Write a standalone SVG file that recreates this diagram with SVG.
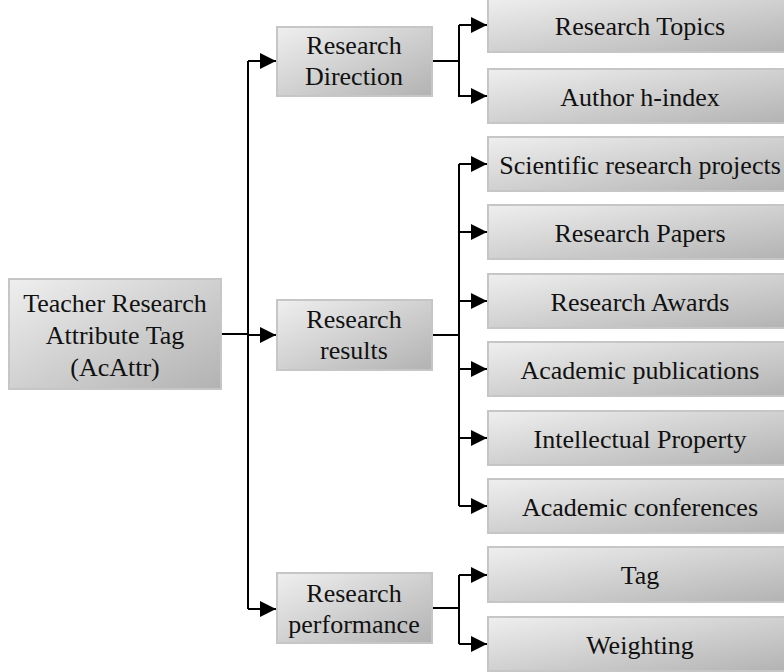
<svg xmlns="http://www.w3.org/2000/svg" width="784" height="672" viewBox="0 0 784 672">
  <style>
    .box { fill: url(#shade); stroke: #c6c6c6; stroke-width: 2; }
    .lbl { font-family: "Liberation Serif", "Times New Roman", serif; font-size: 26px; fill: #111; text-anchor: middle; }
    .wire { fill: none; stroke: #000; stroke-width: 2; }
  </style>
  <defs>
    <linearGradient id="shade" x1="0" y1="0" x2="1" y2="1">
      <stop offset="0" stop-color="#efefef"/>
      <stop offset="1" stop-color="#b2b2b2"/>
    </linearGradient>
    <marker id="arrow" viewBox="0 0 16 16" refX="16" refY="8" markerWidth="16" markerHeight="16" markerUnits="userSpaceOnUse" orient="auto">
      <path d="M0,0 L16,8 L0,16 Z" fill="#000"/>
    </marker>
  </defs>

  <rect width="784" height="672" fill="#fff"/>

  <!-- connectors -->
  <g id="connectors" class="wire">
    <!-- root to second level -->
    <path d="M221,334 H248"/>
    <path d="M248,61 V609"/>
    <path d="M248,61 H276" marker-end="url(#arrow)"/>
    <path d="M248,335 H276" marker-end="url(#arrow)"/>
    <path d="M248,609 H276" marker-end="url(#arrow)"/>
    <!-- Research Direction -->
    <path d="M432,61 H459 M459,25 V97"/>
    <path d="M459,25 H487" marker-end="url(#arrow)"/>
    <path d="M459,96 H487" marker-end="url(#arrow)"/>
    <!-- Research results -->
    <path d="M432,335 H459 M459,164 V506"/>
    <path d="M459,164 H487" marker-end="url(#arrow)"/>
    <path d="M459,232 H487" marker-end="url(#arrow)"/>
    <path d="M459,301 H487" marker-end="url(#arrow)"/>
    <path d="M459,369 H487" marker-end="url(#arrow)"/>
    <path d="M459,438 H487" marker-end="url(#arrow)"/>
    <path d="M459,506 H487" marker-end="url(#arrow)"/>
    <!-- Research performance -->
    <path d="M432,608 H459 M459,575 V644"/>
    <path d="M459,575 H487" marker-end="url(#arrow)"/>
    <path d="M459,644 H487" marker-end="url(#arrow)"/>
  </g>

  <!-- root -->
  <g id="root">
    <rect class="box" x="9" y="279" width="212" height="110"/>
    <text class="lbl" x="115" y="312">Teacher Research</text>
    <text class="lbl" x="115" y="344">Attribute Tag</text>
    <text class="lbl" x="115" y="376">(AcAttr)</text>
  </g>

  <!-- second level -->
  <g id="research-direction">
    <rect class="box" x="277" y="27" width="155" height="69"/>
    <text class="lbl" x="354" y="54">Research</text>
    <text class="lbl" x="354" y="85">Direction</text>
  </g>
  <g id="research-results">
    <rect class="box" x="277" y="300" width="155" height="70"/>
    <text class="lbl" x="354" y="328">Research</text>
    <text class="lbl" x="354" y="359">results</text>
  </g>
  <g id="research-performance">
    <rect class="box" x="277" y="573" width="155" height="70"/>
    <text class="lbl" x="354" y="602">Research</text>
    <text class="lbl" x="354" y="633">performance</text>
  </g>

  <!-- leaves -->
  <g id="research-topics">
    <rect class="box" x="488" y="-2" width="305" height="54"/>
    <text class="lbl" x="640" y="35">Research Topics</text>
  </g>
  <g id="author-h-index">
    <rect class="box" x="488" y="69" width="305" height="54"/>
    <text class="lbl" x="640" y="106">Author h-index</text>
  </g>
  <g id="scientific-research-projects">
    <rect class="box" x="488" y="137" width="305" height="54"/>
    <text class="lbl" x="640" y="174">Scientific research projects</text>
  </g>
  <g id="research-papers">
    <rect class="box" x="488" y="205" width="305" height="54"/>
    <text class="lbl" x="640" y="242">Research Papers</text>
  </g>
  <g id="research-awards">
    <rect class="box" x="488" y="274" width="305" height="54"/>
    <text class="lbl" x="640" y="311">Research Awards</text>
  </g>
  <g id="academic-publications">
    <rect class="box" x="488" y="342" width="305" height="54"/>
    <text class="lbl" x="640" y="379">Academic publications</text>
  </g>
  <g id="intellectual-property">
    <rect class="box" x="488" y="411" width="305" height="54"/>
    <text class="lbl" x="640" y="448">Intellectual Property</text>
  </g>
  <g id="academic-conferences">
    <rect class="box" x="488" y="479" width="305" height="54"/>
    <text class="lbl" x="640" y="516">Academic conferences</text>
  </g>
  <g id="tag">
    <rect class="box" x="488" y="547" width="305" height="55"/>
    <text class="lbl" x="640" y="584">Tag</text>
  </g>
  <g id="weighting">
    <rect class="box" x="488" y="617" width="305" height="54"/>
    <text class="lbl" x="640" y="654">Weighting</text>
  </g>
</svg>
